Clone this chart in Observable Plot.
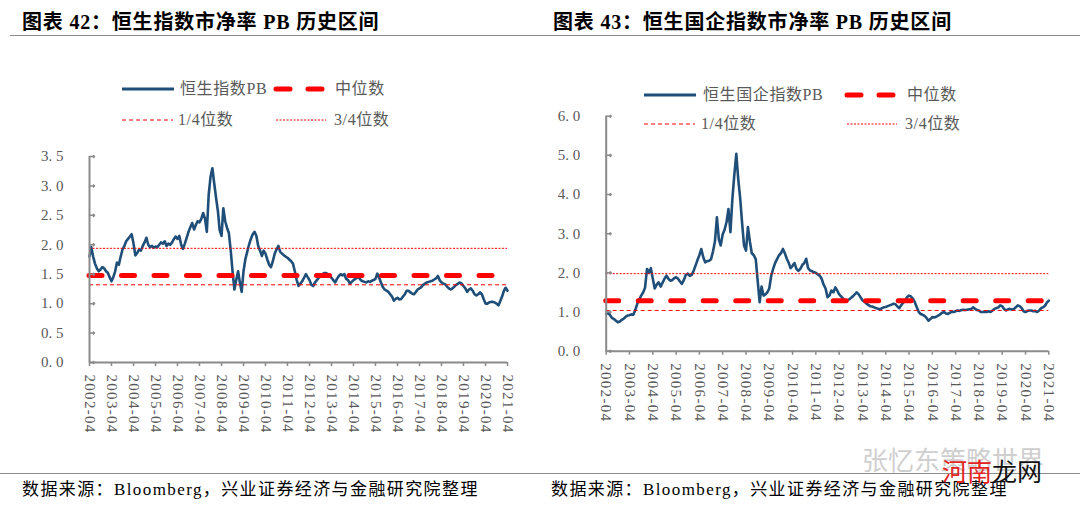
<!DOCTYPE html>
<html><head><meta charset="utf-8">
<script src="https://cdn.jsdelivr.net/npm/d3@7"></script>
<script src="https://cdn.jsdelivr.net/npm/@observablehq/plot@0.6"></script>
<style>
body{margin:0;background:#fff;}
#root{position:relative;width:1080px;height:507px;overflow:hidden;background:#fff;font-family:"Liberation Serif","Noto Sans CJK SC",serif;}
.abs{position:absolute;white-space:nowrap;line-height:1;transform:translateY(-50%);}
.title{font-weight:bold;font-size:20px;color:#000;letter-spacing:0.8px;}
.leg{font-size:16px;color:#595959;letter-spacing:0.6px;}
.cap{font-size:17px;color:#000;letter-spacing:1.4px;}
.hr{position:absolute;height:0;border-top:1.5px solid #8c8c8c;}
svg.panel{position:absolute;top:0;}
svg.panel g[aria-label="x-axis tick label"] text{letter-spacing:1.3px;}
svg.sample{position:absolute;overflow:visible;}
</style></head><body><div id="root"></div>
<script>
// ---------- data ----------
const startMonth = "2002-04";
const endMonth = "2021-04";
const xTickLabels = ["2002-04","2003-04","2004-04","2005-04","2006-04","2007-04","2008-04","2009-04","2010-04","2011-04","2012-04","2013-04","2014-04","2015-04","2016-04","2017-04","2018-04","2019-04","2020-04","2021-04"];

// 恒生指数 PB, monthly 2002-04 .. 2021-04
const hsiPB = [
1.80,1.96,1.80,1.68,1.60,1.55,1.58,1.62,1.60,1.55,1.52,1.45,
1.38,1.45,1.55,1.70,1.66,1.80,1.92,1.98,2.06,2.10,2.14,2.18,
2.02,1.82,1.86,1.92,1.90,1.98,2.04,2.12,2.00,1.96,1.98,1.95,
1.97,1.96,2.00,2.04,2.02,2.06,1.98,2.02,2.00,2.04,2.10,2.14,
2.10,2.15,2.00,1.93,2.02,2.12,2.22,2.30,2.37,2.26,2.34,2.40,
2.38,2.44,2.54,2.45,2.22,2.85,3.15,3.30,3.05,2.80,2.57,2.25,
2.15,2.62,2.40,2.29,2.20,1.90,1.55,1.24,1.40,1.55,1.35,1.20,
1.55,1.75,1.88,2.00,2.10,2.18,2.22,2.15,1.98,1.90,1.81,1.90,
1.85,1.75,1.66,1.62,1.72,1.85,1.92,1.98,1.88,1.85,1.82,1.80,
1.78,1.75,1.72,1.68,1.55,1.40,1.30,1.34,1.38,1.44,1.50,1.45,
1.40,1.32,1.30,1.36,1.40,1.44,1.47,1.50,1.52,1.52,1.50,1.47,
1.44,1.40,1.36,1.42,1.47,1.50,1.48,1.50,1.42,1.40,1.34,1.37,
1.40,1.42,1.44,1.44,1.40,1.38,1.37,1.36,1.38,1.37,1.39,1.40,
1.42,1.51,1.44,1.36,1.28,1.24,1.22,1.20,1.16,1.12,1.05,1.08,
1.10,1.07,1.08,1.12,1.16,1.22,1.22,1.19,1.17,1.16,1.20,1.24,
1.26,1.28,1.32,1.34,1.36,1.37,1.38,1.39,1.41,1.43,1.47,1.40,
1.36,1.34,1.33,1.29,1.26,1.24,1.26,1.29,1.32,1.34,1.36,1.34,
1.30,1.26,1.20,1.24,1.26,1.22,1.16,1.14,1.16,1.19,1.16,1.08,
1.00,1.00,1.02,1.03,1.03,1.02,1.00,0.97,1.04,1.12,1.22,1.27,1.22
];
const hsiMedian = 1.48, hsiQ1 = 1.32, hsiQ3 = 1.94;
const hsiYTicks = [0,0.5,1,1.5,2,2.5,3,3.5];

// 恒生国企指数 PB, monthly 2002-04 .. 2021-04
const hsceiPB = [
0.95,0.98,0.92,0.85,0.82,0.78,0.74,0.76,0.80,0.83,0.88,0.91,
0.92,0.94,0.93,1.05,1.21,1.32,1.42,1.50,1.62,2.10,2.00,2.12,
1.85,1.60,1.70,1.76,1.65,1.75,1.85,1.93,1.85,1.80,1.82,1.86,
1.89,1.85,1.78,1.72,1.82,1.95,1.98,1.92,1.95,2.05,2.19,2.32,
2.45,2.61,2.40,2.27,2.30,2.31,2.35,2.55,2.80,3.42,2.85,2.70,
2.98,3.10,3.30,3.63,3.04,3.90,4.50,5.04,4.40,3.90,3.25,2.70,
2.57,3.17,2.80,2.50,2.45,2.35,1.80,1.25,1.65,1.42,1.45,1.50,
1.60,1.92,2.10,2.25,2.35,2.45,2.50,2.61,2.50,2.36,2.25,2.12,
2.18,2.25,2.10,2.05,2.10,2.20,2.25,2.36,2.12,2.06,2.04,2.02,
2.00,1.96,1.93,1.85,1.70,1.60,1.38,1.42,1.55,1.50,1.63,1.55,
1.45,1.40,1.35,1.30,1.29,1.32,1.36,1.40,1.45,1.50,1.45,1.38,
1.30,1.26,1.22,1.18,1.15,1.14,1.12,1.10,1.08,1.07,1.10,1.12,
1.13,1.15,1.17,1.19,1.21,1.20,1.14,1.10,1.18,1.24,1.30,1.38,
1.42,1.40,1.34,1.25,1.12,1.00,0.95,0.93,0.90,0.85,0.78,0.82,
0.87,0.86,0.88,0.91,0.94,0.98,1.00,0.96,0.95,0.98,1.01,1.00,
1.02,1.04,1.03,1.05,1.06,1.05,1.06,1.07,1.08,1.12,1.08,1.05,
1.04,1.00,1.00,1.01,1.00,1.02,1.00,1.04,1.08,1.10,1.12,1.17,
1.15,1.08,1.04,1.07,1.08,1.06,1.08,1.12,1.17,1.15,1.10,1.02,
1.00,1.03,1.04,1.04,1.02,1.03,1.00,1.04,1.10,1.12,1.16,1.24,1.29
];
const hsceiMedian = 1.29, hsceiQ1 = 1.04, hsceiQ3 = 1.98;
const hsceiYTicks = [0,1,2,3,4,5,6];

const titles = ["图表 42：恒生指数市净率 PB 历史区间", "图表 43：恒生国企指数市净率 PB 历史区间"];
const seriesNames = ["恒生指数PB", "恒生国企指数PB"];
const legendNames = ["中位数", "1/4位数", "3/4位数"];
const sourceText = "数据来源：Bloomberg，兴业证券经济与金融研究院整理";
const watermarkText = "张忆东策略世界";
const overlayText = ["河南", "龙网"];

// ---------- helpers ----------
const parseM = d3.utcParse("%Y-%m");
const start = parseM(startMonth), end = parseM(endMonth);
const xTicks = xTickLabels.map(parseM);
const BLUE = "#1f4e79", RED = "#ff0000", AXIS = "#8a8a8a", TXT = "#595959";
const root = document.getElementById("root");

function panel(values, cfg) {
  const H = 445;
  const data = values.map((v, i) => ({date: d3.utcMonth.offset(start, i), v}));
  const svg = Plot.plot({
    width: 540, height: H,
    marginLeft: cfg.ml, marginRight: cfg.mr, marginTop: cfg.mt, marginBottom: H - cfg.bottom,
    style: {background: "transparent", fontFamily: "'Liberation Serif', serif", overflow: "visible"},
    x: {type: "utc", domain: [start, end]},
    y: {domain: cfg.yDomain},
    marks: [
      Plot.lineY(data, {x: "date", y: "v", stroke: BLUE, strokeWidth: 2.6, strokeLinejoin: "round"}),
      Plot.ruleY([cfg.q3], {x1: () => start, x2: () => end, stroke: RED, strokeWidth: 1, strokeDasharray: "2,1.5"}),
      Plot.ruleY([cfg.q1], {x1: () => start, x2: () => end, stroke: RED, strokeWidth: 1, strokeDasharray: "4,3"}),
      Plot.ruleY([cfg.median], {x1: () => start, x2: () => end, stroke: RED, strokeWidth: 5, strokeDasharray: "13,19.5", strokeLinecap: "round"}),
      Plot.ruleX([start], {stroke: AXIS, strokeWidth: 2}),
      Plot.ruleY([0], {stroke: AXIS, strokeWidth: 2}),
      Plot.axisX({ticks: xTicks, tickFormat: d3.utcFormat("%Y-%m"), tickRotate: 90, tickSize: 4, tickPadding: 8,
        stroke: AXIS, strokeWidth: 1.5, fill: TXT, fontSize: 15, label: null}),
      Plot.axisY({ticks: cfg.yTicks, tickFormat: d => d.toFixed(1).replace(".", ". "), tickSize: 0, tickPadding: 26,
        fill: TXT, fontSize: 15, label: null}),
      Plot.vector(cfg.yTicks, {x: () => start, y: d => d, length: 5, rotate: 90, anchor: "start", stroke: AXIS, strokeWidth: 1.5})
    ]
  });
  svg.classList.add("panel");
  svg.style.left = cfg.left + "px";
  root.appendChild(svg);
}

function text(str, x, y, cls, extra) {
  const d = document.createElement("div");
  d.className = "abs " + cls;
  d.style.left = x + "px"; d.style.top = y + "px";
  if (extra) Object.assign(d.style, extra);
  d.textContent = str;
  root.appendChild(d);
  return d;
}
function sample(x1, x2, y, stroke, width, dash, cap) {
  const ns = "http://www.w3.org/2000/svg";
  const s = document.createElementNS(ns, "svg");
  s.setAttribute("class", "sample");
  s.setAttribute("width", x2 - x1 + 10); s.setAttribute("height", 10);
  s.style.left = (x1 - 5) + "px"; s.style.top = (y - 5) + "px";
  const l = document.createElementNS(ns, "line");
  l.setAttribute("x1", 5); l.setAttribute("x2", x2 - x1 + 5);
  l.setAttribute("y1", 5); l.setAttribute("y2", 5);
  l.setAttribute("stroke", stroke); l.setAttribute("stroke-width", width);
  if (dash) l.setAttribute("stroke-dasharray", dash);
  if (cap) l.setAttribute("stroke-linecap", cap);
  s.appendChild(l);
  root.appendChild(s);
}
function hr(x1, x2, y) {
  const d = document.createElement("div");
  d.className = "hr";
  d.style.left = x1 + "px"; d.style.width = (x2 - x1) + "px"; d.style.top = y + "px";
  root.appendChild(d);
}

// ---------- panels ----------
panel(hsiPB, {left: 0, ml: 89, mr: 33, mt: 156, bottom: 362, yDomain: [0, 3.5], yTicks: hsiYTicks,
  median: hsiMedian, q1: hsiQ1, q3: hsiQ3});
panel(hsceiPB, {left: 540, ml: 65.7, mr: 31.7, mt: 115.7, bottom: 350.7, yDomain: [0, 6], yTicks: hsceiYTicks,
  median: hsceiMedian, q1: hsceiQ1, q3: hsceiQ3});

// ---------- titles, rules ----------
text(titles[0], 22, 22, "title");
text(titles[1], 553, 22, "title");
hr(10, 1080, 34.5);
hr(0, 1080, 473);
text(sourceText, 22, 489, "cap");
text(sourceText, 551, 489, "cap");

// ---------- legends ----------
function legend(o) {
  sample(o.x1, o.x1 + 52, o.y1, BLUE, 3);
  text(seriesNames[o.i], o.t1, o.y1, "leg");
  sample(o.x2 + 2, o.x2 + 50, o.y1, RED, 5, "14,18", "round");
  text(legendNames[0], o.t2, o.y1, "leg");
  sample(o.x1, o.x1 + 51, o.y2, RED, 1, "4,3");
  text(legendNames[1], o.t1 - 2, o.y2, "leg");
  sample(o.x2 + 2, o.x2 + 52, o.y2, RED, 1, "2,1.5");
  text(legendNames[2], o.t3, o.y2, "leg");
}
legend({i: 0, x1: 122, t1: 180, x2: 274, t2: 335, t3: 334, y1: 89, y2: 120});
legend({i: 1, x1: 644, t1: 703, x2: 845, t2: 907, t3: 905, y1: 95, y2: 124});

// ---------- watermark (as in the reference picture) ----------
text(watermarkText, 862, 459, "", {fontSize: "26px", color: "#cfcfcf", fontFamily: "'Noto Sans CJK SC'"});
const wm = text("", 942, 470, "", {fontSize: "25px", fontFamily: "'Noto Sans CJK SC'"});
const s1 = document.createElement("span"); s1.style.color = "#e3231c"; s1.textContent = overlayText[0];
const s2 = document.createElement("span"); s2.style.color = "#111"; s2.textContent = overlayText[1];
wm.appendChild(s1); wm.appendChild(s2);
</script></body></html>
